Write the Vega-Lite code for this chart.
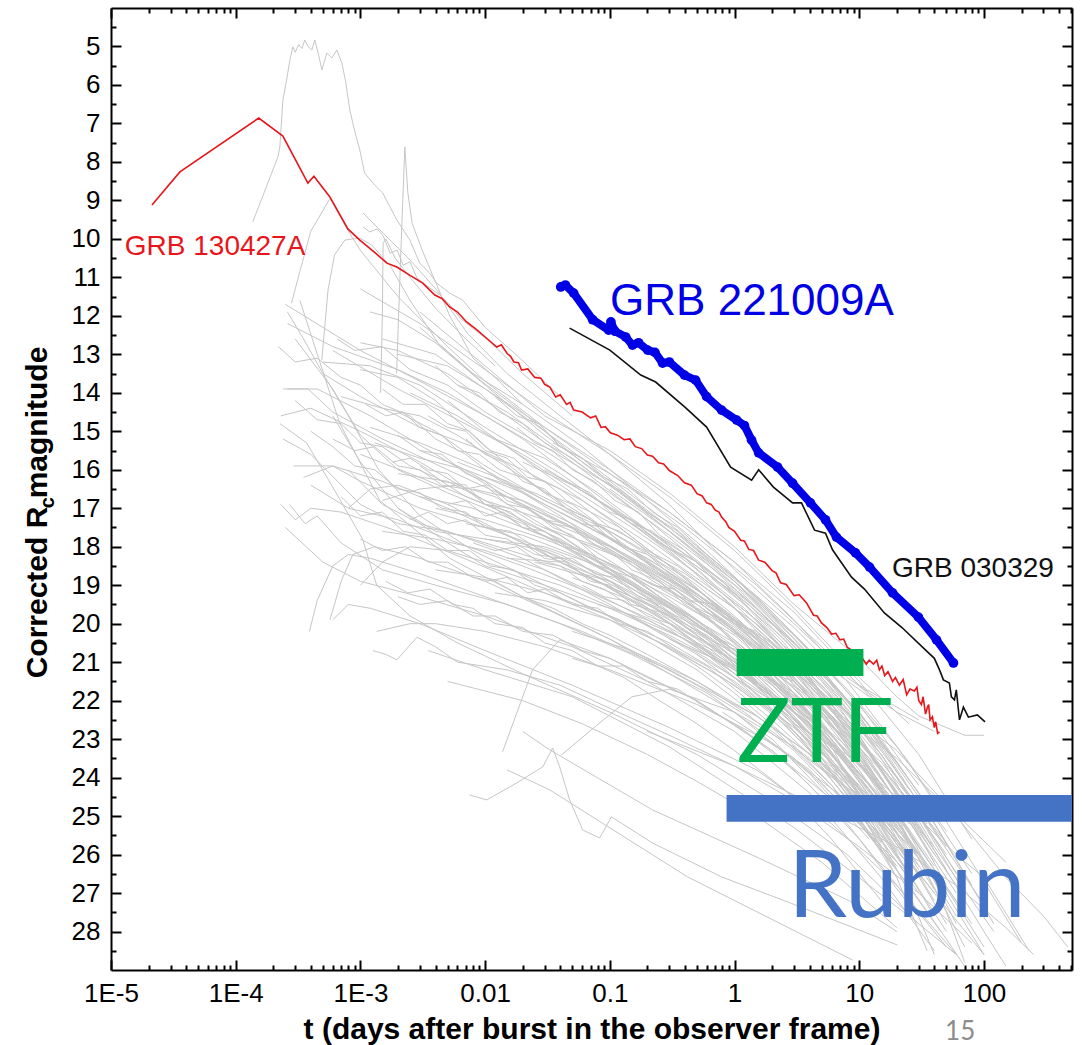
{
"$schema": "https://vega.github.io/schema/vega-lite/v6.json",
"autosize": "none",
"width": 961,
"height": 962,
"padding": {"left": 111, "top": 8, "right": 12, "bottom": 75},
"background": "white",
"config": {
  "view": {"stroke": null},
  "axis": {"grid": false, "domainColor": "black", "domainWidth": 2, "tickColor": "black", "tickWidth": 2, "labelFont": "Liberation Sans", "labelFontSize": 26, "labelColor": "black", "titleFont": "Liberation Sans", "titleColor": "black"}
},
"datasets": {
"grey": [
{"id":1,"t":1.37e-4,"m":9.56},{"id":1,"t":2.18e-4,"m":7.87},{"id":1,"t":2.26e-4,"m":7.61},{"id":1,"t":2.39e-4,"m":6.39},{"id":1,"t":2.55e-4,"m":5.9},{"id":1,"t":2.72e-4,"m":5.35},{"id":1,"t":2.87e-4,"m":5.01},{"id":1,"t":3.0e-4,"m":5.15},{"id":1,"t":3.2e-4,"m":4.95},{"id":1,"t":3.4e-4,"m":5.05},{"id":1,"t":3.58e-4,"m":4.83},{"id":1,"t":3.8e-4,"m":5.0},{"id":1,"t":4.08e-4,"m":5.09},{"id":1,"t":4.31e-4,"m":4.83},{"id":1,"t":4.6e-4,"m":5.2},{"id":1,"t":4.91e-4,"m":5.61},{"id":1,"t":5.38e-4,"m":5.17},{"id":1,"t":5.9e-4,"m":5.3},{"id":1,"t":6.47e-4,"m":5.09},{"id":1,"t":7.1e-4,"m":5.43},{"id":1,"t":7.6e-4,"m":5.9},{"id":1,"t":8.22e-4,"m":6.65},{"id":1,"t":9e-4,"m":7.2},{"id":1,"t":9.89e-4,"m":7.69},{"id":1,"t":1.08e-3,"m":8.29},{"id":1,"t":1.3e-3,"m":8.6},{"id":1,"t":1.51e-3,"m":8.81},{"id":1,"t":1.96e-3,"m":9.51},{"id":1,"t":2.49e-3,"m":10.03},{"id":1,"t":2.99e-3,"m":10.63},{"id":1,"t":3.6e-3,"m":10.89},{"id":1,"t":4.09e-3,"m":11.15},{"id":1,"t":5.2e-3,"m":11.41},{"id":1,"t":6.6e-3,"m":11.59},{"id":1,"t":0.01,"m":12.3},{"id":1,"t":0.019,"m":13.1},{"id":1,"t":0.04,"m":14.1},
{"id":2,"t":1.95e-3,"m":13.5},{"id":2,"t":2.1e-3,"m":10.5},{"id":2,"t":2.27e-3,"m":7.61},{"id":2,"t":2.4e-3,"m":8.8},{"id":2,"t":2.6e-3,"m":9.6},{"id":2,"t":3.16e-3,"m":10.33},{"id":2,"t":4.1e-3,"m":11.2},{"id":2,"t":5.2e-3,"m":12.0},{"id":2,"t":6.6e-3,"m":12.6},{"id":2,"t":8e-3,"m":13.1},{"id":2,"t":0.012,"m":13.6},{"id":2,"t":0.02,"m":14.3},
{"id":3,"t":4.9e-4,"m":13.15},{"id":3,"t":5.5e-4,"m":11.33},{"id":3,"t":6.2e-4,"m":10.42},{"id":3,"t":7.5e-4,"m":10.03},{"id":3,"t":9.9e-4,"m":9.98},{"id":3,"t":1.23e-3,"m":10.16},{"id":3,"t":1.72e-3,"m":10.68},{"id":3,"t":2.49e-3,"m":11.59},{"id":3,"t":4.3e-3,"m":12.76},{"id":3,"t":9.1e-3,"m":13.67},{"id":3,"t":0.019,"m":14.45},{"id":3,"t":0.05,"m":15.6},{"id":3,"t":0.15,"m":16.8},{"id":3,"t":0.5,"m":18.2},{"id":3,"t":1.5,"m":19.6},{"id":3,"t":4,"m":21.0},{"id":3,"t":10,"m":22.6},
{"id":4,"t":1.05e-3,"m":9.69},{"id":4,"t":1.19e-3,"m":9.82},{"id":4,"t":1.36e-3,"m":9.74},{"id":4,"t":1.52e-3,"m":9.92},{"id":4,"t":1.73e-3,"m":10.37},{"id":4,"t":1.97e-3,"m":10.29},{"id":4,"t":2.2e-3,"m":10.68},{"id":4,"t":2.5e-3,"m":10.6},{"id":4,"t":2.84e-3,"m":11.02},{"id":4,"t":3.61e-3,"m":11.28},{"id":4,"t":4.35e-3,"m":11.46},{"id":4,"t":5.24e-3,"m":11.72},{"id":4,"t":6.3e-3,"m":12.06},{"id":4,"t":8.3e-3,"m":12.37},{"id":4,"t":0.011,"m":12.68},{"id":4,"t":0.02,"m":13.5},{"id":4,"t":0.05,"m":14.6},
{"id":5,"t":1.45e-3,"m":14.0},{"id":5,"t":1.5e-3,"m":12.0},{"id":5,"t":1.52e-3,"m":10.1},{"id":5,"t":1.6e-3,"m":10.0},{"id":5,"t":1.9e-3,"m":10.5},{"id":5,"t":2.5e-3,"m":11.0},{"id":5,"t":4e-3,"m":11.8},{"id":5,"t":7e-3,"m":12.6},{"id":5,"t":0.012,"m":13.3},
{"id":6,"t":1.05e-3,"m":9.33},{"id":6,"t":2.5e-3,"m":10.55},{"id":6,"t":4.1e-3,"m":11.33},{"id":6,"t":7.2e-3,"m":12.45},{"id":6,"t":0.015,"m":13.5},{"id":6,"t":0.04,"m":14.6},{"id":6,"t":0.1,"m":15.6},{"id":6,"t":0.3,"m":16.7},{"id":6,"t":1,"m":18.1},{"id":6,"t":3,"m":19.6},{"id":6,"t":10,"m":21.4},{"id":6,"t":25,"m":22.6},
{"id":7,"t":2.8e-4,"m":11.67},{"id":7,"t":3.3e-4,"m":10.8},{"id":7,"t":4e-4,"m":9.8},{"id":7,"t":5.7e-4,"m":8.95},{"id":7,"t":8e-4,"m":9.8},{"id":7,"t":1e-3,"m":10.3},{"id":7,"t":2e-3,"m":11.5},{"id":7,"t":5e-3,"m":12.8},{"id":7,"t":0.01,"m":13.7},{"id":7,"t":0.03,"m":14.9},{"id":7,"t":0.1,"m":16.1},{"id":7,"t":0.4,"m":17.5},{"id":7,"t":1.5,"m":19.0},{"id":7,"t":5,"m":20.6},{"id":7,"t":15,"m":22.2},
{"id":8,"t":3e-3,"m":11.9},{"id":8,"t":0.01,"m":13.3},{"id":8,"t":0.03,"m":14.6},{"id":8,"t":0.1,"m":15.5},{"id":8,"t":0.3,"m":16.6},{"id":8,"t":1,"m":18.0},{"id":8,"t":3,"m":19.5},{"id":8,"t":10,"m":20.9},{"id":8,"t":20,"m":21.9},{"id":8,"t":30,"m":22.4},{"id":8,"t":50,"m":22.7},{"id":8,"t":70,"m":22.9},{"id":8,"t":100,"m":22.9},
{"id":9,"t":1e-3,"m":11.3},{"id":9,"t":3e-3,"m":12.2},{"id":9,"t":0.01,"m":13.4},{"id":9,"t":0.03,"m":14.5},{"id":9,"t":0.1,"m":15.6},{"id":9,"t":0.3,"m":16.9},{"id":9,"t":1,"m":18.6},{"id":9,"t":3,"m":20.0},{"id":9,"t":10,"m":21.6},{"id":9,"t":30,"m":22.5},
{"id":10,"t":2.5e-4,"m":11.7},{"id":10,"t":5e-4,"m":12.3},{"id":10,"t":1e-3,"m":12.9},{"id":10,"t":3e-3,"m":13.7},{"id":10,"t":0.01,"m":14.6},{"id":10,"t":0.03,"m":15.5},{"id":10,"t":0.1,"m":16.6},{"id":10,"t":0.3,"m":17.7},{"id":10,"t":1,"m":19.0},{"id":10,"t":3,"m":20.6},{"id":10,"t":10,"m":22.3},{"id":10,"t":20,"m":23.6},
{"id":11,"t":2.6e-4,"m":12.2},{"id":11,"t":6e-4,"m":12.8},{"id":11,"t":2e-3,"m":13.4},{"id":11,"t":5e-3,"m":14.0},{"id":11,"t":0.02,"m":15.2},{"id":11,"t":0.1,"m":16.9},{"id":11,"t":0.5,"m":18.6},{"id":11,"t":2,"m":20.4},{"id":11,"t":6,"m":22.1},{"id":11,"t":15,"m":23.8},
{"id":12,"t":1.5e-3,"m":12.6},{"id":12,"t":4e-3,"m":13.0},{"id":12,"t":0.01,"m":13.9},{"id":12,"t":0.03,"m":14.9},{"id":12,"t":0.1,"m":16.0},{"id":12,"t":0.3,"m":17.1},{"id":12,"t":1,"m":18.4},{"id":12,"t":3,"m":19.9},{"id":12,"t":8,"m":21.4},{"id":12,"t":20,"m":22.3},{"id":12,"t":40,"m":22.8},
{"id":13,"t":3e-3,"m":12.3},{"id":13,"t":8e-3,"m":13.5},{"id":13,"t":0.02,"m":14.3},{"id":13,"t":0.06,"m":15.4},{"id":13,"t":0.2,"m":16.8},{"id":13,"t":0.6,"m":18.1},{"id":13,"t":2,"m":19.7},{"id":13,"t":5,"m":21.0},{"id":13,"t":12,"m":21.9},
{"id":14,"t":5e-4,"m":13.2},{"id":14,"t":1.2e-3,"m":13.3},{"id":14,"t":3e-3,"m":13.8},{"id":14,"t":0.01,"m":14.9},{"id":14,"t":0.04,"m":16.1},{"id":14,"t":0.15,"m":17.4},{"id":14,"t":0.5,"m":18.7},{"id":14,"t":1.5,"m":19.9},{"id":14,"t":4,"m":21.4},{"id":14,"t":10,"m":23.0},{"id":14,"t":25,"m":24.8},
{"id":15,"t":6e-4,"m":12.9},{"id":15,"t":2e-3,"m":13.9},{"id":15,"t":6e-3,"m":14.7},{"id":15,"t":0.02,"m":15.6},{"id":15,"t":0.08,"m":16.8},{"id":15,"t":0.3,"m":18.1},{"id":15,"t":1,"m":19.6},{"id":15,"t":3,"m":21.2},{"id":15,"t":8,"m":23.0},
{"id":16,"t":1e-3,"m":12.7},{"id":16,"t":2e-3,"m":12.9},{"id":16,"t":5e-3,"m":13.5},{"id":16,"t":0.015,"m":14.6},{"id":16,"t":0.05,"m":15.8},{"id":16,"t":0.2,"m":17.3},{"id":16,"t":0.8,"m":18.9},{"id":16,"t":2.5,"m":20.5},{"id":16,"t":7,"m":22.5},{"id":16,"t":20,"m":24.6},{"id":16,"t":60,"m":26.8},
{"id":17,"t":2.3e-4,"m":14.6},{"id":17,"t":4e-4,"m":14.4},{"id":17,"t":1e-3,"m":15.0},{"id":17,"t":3e-3,"m":15.8},{"id":17,"t":0.01,"m":16.8},{"id":17,"t":0.03,"m":17.6},{"id":17,"t":0.1,"m":18.6},{"id":17,"t":0.4,"m":19.8},{"id":17,"t":1.5,"m":21.2},{"id":17,"t":5,"m":22.8},{"id":17,"t":15,"m":24.5},
{"id":18,"t":2.4e-4,"m":13.9},{"id":18,"t":4.5e-4,"m":13.9},{"id":18,"t":1.2e-3,"m":14.6},{"id":18,"t":4e-3,"m":15.6},{"id":18,"t":0.015,"m":16.7},{"id":18,"t":0.06,"m":17.9},{"id":18,"t":0.25,"m":19.2},{"id":18,"t":1,"m":20.6},{"id":18,"t":4,"m":22.3},{"id":18,"t":12,"m":24.2},
{"id":19,"t":2.4e-4,"m":15.2},{"id":19,"t":4e-4,"m":15.6},{"id":19,"t":1e-3,"m":16.9},{"id":19,"t":2e-3,"m":17.4},{"id":19,"t":5e-3,"m":17.6},{"id":19,"t":0.02,"m":18.3},{"id":19,"t":0.1,"m":19.5},{"id":19,"t":0.5,"m":20.8},{"id":19,"t":2,"m":22.3},{"id":19,"t":8,"m":24.3},{"id":19,"t":25,"m":26.5},
{"id":20,"t":3.5e-4,"m":16.2},{"id":20,"t":6e-4,"m":15.9},{"id":20,"t":1.5e-3,"m":16.3},{"id":20,"t":5e-3,"m":17.0},{"id":20,"t":0.02,"m":17.9},{"id":20,"t":0.08,"m":18.9},{"id":20,"t":0.3,"m":20.0},{"id":20,"t":1,"m":21.3},{"id":20,"t":3,"m":22.8},{"id":20,"t":10,"m":24.8},{"id":20,"t":30,"m":27.0},
{"id":21,"t":2.3e-4,"m":16.9},{"id":21,"t":3e-4,"m":17.3},{"id":21,"t":4e-4,"m":17.0},{"id":21,"t":7e-4,"m":17.1},{"id":21,"t":2e-3,"m":17.6},{"id":21,"t":8e-3,"m":18.4},{"id":21,"t":0.03,"m":19.2},{"id":21,"t":0.1,"m":19.9},{"id":21,"t":0.5,"m":21.2},{"id":21,"t":2,"m":22.7},{"id":21,"t":6,"m":24.2},{"id":21,"t":20,"m":26.3},
{"id":22,"t":2.5e-4,"m":17.5},{"id":22,"t":5e-4,"m":18.4},{"id":22,"t":1e-3,"m":18.9},{"id":22,"t":3e-3,"m":19.3},{"id":22,"t":0.01,"m":19.8},{"id":22,"t":0.05,"m":20.6},{"id":22,"t":0.2,"m":21.5},{"id":22,"t":1,"m":22.8},{"id":22,"t":4,"m":24.4},{"id":22,"t":15,"m":26.6},{"id":22,"t":40,"m":28.5},
{"id":23,"t":3.9e-4,"m":20.2},{"id":23,"t":4.5e-4,"m":19.4},{"id":23,"t":6e-4,"m":18.5},{"id":23,"t":8e-4,"m":18.2},{"id":23,"t":1.2e-3,"m":18.3},{"id":23,"t":3e-3,"m":18.7},{"id":23,"t":0.01,"m":19.3},{"id":23,"t":0.04,"m":20.0},{"id":23,"t":0.15,"m":20.8},{"id":23,"t":0.6,"m":21.8},{"id":23,"t":2,"m":23.0},{"id":23,"t":6,"m":24.6},
{"id":24,"t":5.7e-4,"m":19.9},{"id":24,"t":7e-4,"m":18.9},{"id":24,"t":8.7e-4,"m":18.2},{"id":24,"t":1.3e-3,"m":18.0},{"id":24,"t":3e-3,"m":18.3},{"id":24,"t":0.01,"m":18.9},{"id":24,"t":0.03,"m":19.6},{"id":24,"t":0.1,"m":20.4},{"id":24,"t":0.3,"m":21.3},{"id":24,"t":1,"m":22.3},{"id":24,"t":4,"m":23.9},{"id":24,"t":12,"m":25.6},
{"id":25,"t":5e-4,"m":13.5},{"id":25,"t":1e-3,"m":14.1},{"id":25,"t":3e-3,"m":14.9},{"id":25,"t":8e-3,"m":15.4},{"id":25,"t":0.02,"m":16.0},{"id":25,"t":0.06,"m":16.8},{"id":25,"t":0.2,"m":17.9},{"id":25,"t":0.8,"m":19.3},{"id":25,"t":3,"m":21.0},{"id":25,"t":10,"m":22.9},{"id":25,"t":30,"m":25.3},
{"id":26,"t":7e-4,"m":14.1},{"id":26,"t":1.5e-3,"m":14.4},{"id":26,"t":3e-3,"m":14.6},{"id":26,"t":6e-3,"m":15.1},{"id":26,"t":0.02,"m":16.2},{"id":26,"t":0.07,"m":17.3},{"id":26,"t":0.3,"m":18.8},{"id":26,"t":1,"m":20.2},{"id":26,"t":3,"m":21.9},{"id":26,"t":8,"m":23.6},{"id":26,"t":20,"m":25.3},
{"id":27,"t":1e-3,"m":13.4},{"id":27,"t":2e-3,"m":13.6},{"id":27,"t":4e-3,"m":14.2},{"id":27,"t":0.01,"m":15.4},{"id":27,"t":0.03,"m":16.6},{"id":27,"t":0.1,"m":17.8},{"id":27,"t":0.3,"m":18.8},{"id":27,"t":1,"m":20.0},{"id":27,"t":3,"m":21.4},{"id":27,"t":10,"m":23.5},{"id":27,"t":30,"m":25.8},{"id":27,"t":80,"m":27.8},
{"id":28,"t":1.3e-3,"m":15.3},{"id":28,"t":3e-3,"m":15.7},{"id":28,"t":7e-3,"m":16.0},{"id":28,"t":0.02,"m":16.6},{"id":28,"t":0.06,"m":17.4},{"id":28,"t":0.2,"m":18.3},{"id":28,"t":0.6,"m":19.3},{"id":28,"t":2,"m":20.6},{"id":28,"t":6,"m":22.1},{"id":28,"t":15,"m":23.8},{"id":28,"t":40,"m":26.0},
{"id":29,"t":2e-3,"m":14.5},{"id":29,"t":4e-3,"m":15.0},{"id":29,"t":0.01,"m":15.9},{"id":29,"t":0.03,"m":16.8},{"id":29,"t":0.1,"m":17.6},{"id":29,"t":0.4,"m":18.7},{"id":29,"t":1.5,"m":20.0},{"id":29,"t":5,"m":21.6},{"id":29,"t":15,"m":23.4},{"id":29,"t":50,"m":25.8},
{"id":30,"t":2e-3,"m":16.1},{"id":30,"t":5e-3,"m":16.3},{"id":30,"t":0.01,"m":16.8},{"id":30,"t":0.03,"m":17.3},{"id":30,"t":0.1,"m":18.0},{"id":30,"t":0.3,"m":18.9},{"id":30,"t":1,"m":20.0},{"id":30,"t":3,"m":21.0},{"id":30,"t":10,"m":22.6},{"id":30,"t":30,"m":24.8},{"id":30,"t":100,"m":27.3},
{"id":31,"t":3e-3,"m":15.5},{"id":31,"t":6e-3,"m":15.9},{"id":31,"t":0.015,"m":16.6},{"id":31,"t":0.05,"m":17.5},{"id":31,"t":0.15,"m":18.4},{"id":31,"t":0.5,"m":19.5},{"id":31,"t":1.5,"m":20.7},{"id":31,"t":5,"m":22.4},{"id":31,"t":20,"m":24.9},
{"id":32,"t":4e-3,"m":17.0},{"id":32,"t":0.01,"m":17.3},{"id":32,"t":0.03,"m":17.8},{"id":32,"t":0.1,"m":18.5},{"id":32,"t":0.3,"m":19.3},{"id":32,"t":1,"m":20.3},{"id":32,"t":3,"m":21.7},{"id":32,"t":10,"m":23.4},{"id":32,"t":30,"m":25.5},{"id":32,"t":60,"m":27.0},
{"id":33,"t":5e-3,"m":14.2},{"id":33,"t":0.01,"m":15.0},{"id":33,"t":0.03,"m":16.1},{"id":33,"t":0.1,"m":17.3},{"id":33,"t":0.3,"m":18.5},{"id":33,"t":1,"m":19.9},{"id":33,"t":3,"m":21.6},{"id":33,"t":8,"m":23.4},
{"id":34,"t":6e-3,"m":15.8},{"id":34,"t":0.015,"m":16.3},{"id":34,"t":0.04,"m":17.0},{"id":34,"t":0.12,"m":17.9},{"id":34,"t":0.4,"m":19.0},{"id":34,"t":1.2,"m":20.2},{"id":34,"t":4,"m":21.8},{"id":34,"t":12,"m":23.5},{"id":34,"t":30,"m":25.5},
{"id":35,"t":8e-3,"m":16.5},{"id":35,"t":0.02,"m":16.8},{"id":35,"t":0.05,"m":17.4},{"id":35,"t":0.15,"m":18.3},{"id":35,"t":0.5,"m":19.3},{"id":35,"t":2,"m":20.8},{"id":35,"t":6,"m":22.0},{"id":35,"t":20,"m":23.3},{"id":35,"t":50,"m":24.7},{"id":35,"t":150,"m":26.2},
{"id":36,"t":0.01,"m":17.8},{"id":36,"t":0.03,"m":18.1},{"id":36,"t":0.1,"m":18.8},{"id":36,"t":0.3,"m":19.6},{"id":36,"t":1,"m":20.7},{"id":36,"t":3,"m":22.0},{"id":36,"t":10,"m":23.6},{"id":36,"t":40,"m":25.8},{"id":36,"t":120,"m":28.0},
{"id":37,"t":0.012,"m":15.2},{"id":37,"t":0.03,"m":15.7},{"id":37,"t":0.08,"m":16.6},{"id":37,"t":0.25,"m":17.8},{"id":37,"t":0.8,"m":19.0},{"id":37,"t":2.5,"m":20.4},{"id":37,"t":7,"m":21.9},{"id":37,"t":20,"m":23.6},{"id":37,"t":50,"m":25.4},
{"id":38,"t":0.015,"m":18.3},{"id":38,"t":0.04,"m":18.4},{"id":38,"t":0.1,"m":18.9},{"id":38,"t":0.3,"m":19.8},{"id":38,"t":1,"m":21.0},{"id":38,"t":3,"m":22.4},{"id":38,"t":10,"m":24.4},{"id":38,"t":25,"m":26.3},
{"id":39,"t":0.02,"m":16.9},{"id":39,"t":0.06,"m":17.6},{"id":39,"t":0.2,"m":18.5},{"id":39,"t":0.6,"m":19.4},{"id":39,"t":2,"m":20.6},{"id":39,"t":6,"m":22.0},{"id":39,"t":20,"m":24.0},{"id":39,"t":60,"m":26.5},
{"id":40,"t":0.03,"m":17.5},{"id":40,"t":0.08,"m":18.0},{"id":40,"t":0.2,"m":18.7},{"id":40,"t":0.6,"m":19.8},{"id":40,"t":2,"m":21.3},{"id":40,"t":5,"m":22.8},{"id":40,"t":15,"m":24.9},{"id":40,"t":40,"m":27.2},
{"id":41,"t":0.04,"m":16.2},{"id":41,"t":0.1,"m":17.0},{"id":41,"t":0.3,"m":17.9},{"id":41,"t":1,"m":19.1},{"id":41,"t":3,"m":20.5},{"id":41,"t":10,"m":22.3},{"id":41,"t":30,"m":24.4},{"id":41,"t":80,"m":26.5},
{"id":42,"t":0.05,"m":18.8},{"id":42,"t":0.15,"m":19.4},{"id":42,"t":0.5,"m":20.4},{"id":42,"t":1.5,"m":21.6},{"id":42,"t":5,"m":23.3},{"id":42,"t":15,"m":25.3},{"id":42,"t":40,"m":27.6},
{"id":43,"t":0.06,"m":17.9},{"id":43,"t":0.15,"m":18.4},{"id":43,"t":0.4,"m":19.2},{"id":43,"t":1,"m":20.1},{"id":43,"t":3,"m":21.3},{"id":43,"t":10,"m":23.0},{"id":43,"t":30,"m":25.0},{"id":43,"t":70,"m":27.0},
{"id":44,"t":0.08,"m":19.5},{"id":44,"t":0.2,"m":19.9},{"id":44,"t":0.6,"m":20.7},{"id":44,"t":2,"m":21.9},{"id":44,"t":6,"m":23.4},{"id":44,"t":20,"m":25.6},{"id":44,"t":50,"m":27.8},
{"id":45,"t":0.1,"m":16.5},{"id":45,"t":0.3,"m":17.6},{"id":45,"t":1,"m":18.9},{"id":45,"t":3,"m":20.3},{"id":45,"t":8,"m":21.7},{"id":45,"t":20,"m":23.2},{"id":45,"t":50,"m":25.0},
{"id":46,"t":0.15,"m":17.4},{"id":46,"t":0.4,"m":18.3},{"id":46,"t":1,"m":19.2},{"id":46,"t":3,"m":20.5},{"id":46,"t":10,"m":22.3},{"id":46,"t":30,"m":24.5},{"id":46,"t":80,"m":26.8},
{"id":47,"t":0.2,"m":18.9},{"id":47,"t":0.5,"m":19.5},{"id":47,"t":1.5,"m":20.6},{"id":47,"t":4,"m":21.9},{"id":47,"t":12,"m":23.8},{"id":47,"t":40,"m":26.4},{"id":47,"t":100,"m":28.4},
{"id":48,"t":0.3,"m":20.4},{"id":48,"t":0.8,"m":21.0},{"id":48,"t":2,"m":21.8},{"id":48,"t":6,"m":23.1},{"id":48,"t":20,"m":25.0},{"id":48,"t":60,"m":27.2},
{"id":49,"t":0.5,"m":18.0},{"id":49,"t":1,"m":18.8},{"id":49,"t":3,"m":20.1},{"id":49,"t":8,"m":21.5},{"id":49,"t":25,"m":23.6},{"id":49,"t":80,"m":26.2},{"id":49,"t":200,"m":28.3},
{"id":50,"t":0.7,"m":19.6},{"id":50,"t":2,"m":20.5},{"id":50,"t":5,"m":21.6},{"id":50,"t":15,"m":23.3},{"id":50,"t":40,"m":25.2},{"id":50,"t":120,"m":27.8},
{"id":51,"t":2.26e-4,"m":14.8},{"id":51,"t":3.7e-4,"m":15.3},{"id":51,"t":6e-4,"m":16.45},{"id":51,"t":1.04e-3,"m":17.8},{"id":51,"t":1.35e-3,"m":19.0},{"id":51,"t":2.5e-3,"m":19.8},{"id":51,"t":6e-3,"m":20.5},{"id":51,"t":0.02,"m":21.3},{"id":51,"t":0.1,"m":22.3},{"id":51,"t":0.5,"m":23.4},{"id":51,"t":2,"m":24.6},{"id":51,"t":8,"m":26.0},{"id":51,"t":30,"m":27.8},
{"id":52,"t":6e-4,"m":19.9},{"id":52,"t":8e-4,"m":19.5},{"id":52,"t":1.2e-3,"m":19.6},{"id":52,"t":3e-3,"m":20.0},{"id":52,"t":0.01,"m":20.7},{"id":52,"t":0.05,"m":21.6},{"id":52,"t":0.3,"m":22.7},{"id":52,"t":1.5,"m":23.8},{"id":52,"t":6,"m":25.2},{"id":52,"t":20,"m":26.8},{"id":52,"t":60,"m":28.6},
{"id":53,"t":1.35e-3,"m":20.2},{"id":53,"t":2.5e-3,"m":20.0},{"id":53,"t":4e-3,"m":20.0},{"id":53,"t":0.01,"m":20.2},{"id":53,"t":0.03,"m":20.6},{"id":53,"t":0.1,"m":21.2},{"id":53,"t":0.5,"m":22.1},{"id":53,"t":2,"m":23.1},{"id":53,"t":8,"m":24.6},{"id":53,"t":30,"m":26.5},{"id":53,"t":100,"m":28.6},
{"id":54,"t":1.26e-3,"m":20.7},{"id":54,"t":1.6e-3,"m":20.8},{"id":54,"t":1.96e-3,"m":20.94},{"id":54,"t":2.84e-3,"m":20.35},{"id":54,"t":4e-3,"m":20.6},{"id":54,"t":6e-3,"m":21.0},{"id":54,"t":0.015,"m":21.2},{"id":54,"t":0.04,"m":21.6},{"id":54,"t":0.1,"m":22.2},{"id":54,"t":0.3,"m":22.9},{"id":54,"t":1,"m":23.7},{"id":54,"t":3,"m":24.6},{"id":54,"t":10,"m":25.8},{"id":54,"t":30,"m":27.0},{"id":54,"t":80,"m":28.3},
{"id":55,"t":3.5e-3,"m":20.7},{"id":55,"t":0.01,"m":21.2},{"id":55,"t":0.02,"m":21.5},{"id":55,"t":0.05,"m":21.9},{"id":55,"t":0.1,"m":22.4},{"id":55,"t":0.3,"m":23.2},{"id":55,"t":1,"m":24.3},{"id":55,"t":3,"m":25.3},{"id":55,"t":10,"m":26.6},{"id":55,"t":30,"m":27.8},{"id":55,"t":60,"m":28.6},
{"id":56,"t":5e-3,"m":21.5},{"id":56,"t":0.02,"m":22.0},{"id":56,"t":0.06,"m":22.6},{"id":56,"t":0.2,"m":23.4},{"id":56,"t":0.5,"m":24.1},{"id":56,"t":1.5,"m":25.0},{"id":56,"t":5,"m":26.2},{"id":56,"t":20,"m":27.9},
{"id":57,"t":7.5e-3,"m":24.45},{"id":57,"t":0.0103,"m":24.58},{"id":57,"t":0.0179,"m":24.14},{"id":57,"t":0.029,"m":23.72},{"id":57,"t":0.0348,"m":23.23},{"id":57,"t":0.0396,"m":23.72},{"id":57,"t":0.0476,"m":24.58},{"id":57,"t":0.0605,"m":25.36},{"id":57,"t":0.0828,"m":25.57},{"id":57,"t":0.103,"m":25.02},{"id":57,"t":0.22,"m":25.7},{"id":57,"t":0.787,"m":26.58},{"id":57,"t":2.81,"m":27.26},{"id":57,"t":20.2,"m":28.35},
{"id":58,"t":0.0138,"m":23.33},{"id":58,"t":0.024,"m":21.2},{"id":58,"t":0.0396,"m":20.42},{"id":58,"t":0.1,"m":20.9},{"id":58,"t":0.5,"m":22.0},{"id":58,"t":2,"m":23.3},{"id":58,"t":8,"m":24.9},{"id":58,"t":25,"m":26.5},
{"id":59,"t":0.041,"m":23.41},{"id":59,"t":0.0828,"m":22.58},{"id":59,"t":0.15,"m":21.9},{"id":59,"t":0.3,"m":21.7},{"id":59,"t":1,"m":22.3},{"id":59,"t":3,"m":23.2},{"id":59,"t":10,"m":24.5},{"id":59,"t":30,"m":26.0},
{"id":60,"t":0.015,"m":23.8},{"id":60,"t":0.033,"m":24.32},{"id":60,"t":0.42,"m":26.58},{"id":60,"t":8.83,"m":28.74},
{"id":61,"t":0.02,"m":22.8},{"id":61,"t":0.033,"m":23.28},{"id":61,"t":0.22,"m":24.84},{"id":61,"t":1.59,"m":26.1},{"id":61,"t":8.3,"m":27.2},{"id":61,"t":20,"m":28.0},
{"id":62,"t":2.6e-4,"m":11.9},{"id":62,"t":3.5e-4,"m":12.6},{"id":62,"t":5e-4,"m":13.5},{"id":62,"t":8e-4,"m":14.6},{"id":62,"t":1.4e-3,"m":16.0},{"id":62,"t":3e-3,"m":17.2},{"id":62,"t":8e-3,"m":18.1},{"id":62,"t":0.03,"m":19.0},{"id":62,"t":0.15,"m":20.1},{"id":62,"t":0.8,"m":21.4},{"id":62,"t":3,"m":22.7},{"id":62,"t":10,"m":24.2},{"id":62,"t":30,"m":26.0},
{"id":63,"t":3.27e-4,"m":11.6},{"id":63,"t":6.8e-4,"m":14.78},{"id":63,"t":1.43e-3,"m":16.8},{"id":63,"t":5.2e-3,"m":18.3},{"id":63,"t":0.02,"m":19.3},{"id":63,"t":0.1,"m":20.4},{"id":63,"t":0.5,"m":21.6},{"id":63,"t":2,"m":22.8},{"id":63,"t":8,"m":24.3},{"id":63,"t":25,"m":26.0},
{"id":64,"t":0.3,"m":19.5},{"id":64,"t":1,"m":20.5},{"id":64,"t":3,"m":21.8},{"id":64,"t":6,"m":23.2},{"id":64,"t":12,"m":25.0},{"id":64,"t":25,"m":27.0},{"id":64,"t":40,"m":28.6},
{"id":65,"t":0.5,"m":20.8},{"id":65,"t":2,"m":22.0},{"id":65,"t":5,"m":23.3},{"id":65,"t":10,"m":24.8},{"id":65,"t":20,"m":26.6},{"id":65,"t":35,"m":28.5},
{"id":66,"t":1,"m":20.9},{"id":66,"t":3,"m":21.8},{"id":66,"t":8,"m":23.0},{"id":66,"t":20,"m":25.0},{"id":66,"t":50,"m":27.5},{"id":66,"t":70,"m":28.8},
{"id":67,"t":2,"m":21.5},{"id":67,"t":6,"m":22.5},{"id":67,"t":15,"m":23.8},{"id":67,"t":40,"m":25.9},{"id":67,"t":100,"m":28.0},{"id":67,"t":150,"m":28.9},
{"id":68,"t":3,"m":22.6},{"id":68,"t":8,"m":23.4},{"id":68,"t":20,"m":24.5},{"id":68,"t":60,"m":26.0},{"id":68,"t":100,"m":26.6},{"id":68,"t":230,"m":28.5},
{"id":69,"t":5,"m":22.0},{"id":69,"t":20,"m":23.5},{"id":69,"t":60,"m":25.0},{"id":69,"t":150,"m":26.6},{"id":69,"t":300,"m":27.6},{"id":69,"t":470,"m":28.4},
{"id":70,"t":1.5,"m":22.8},{"id":70,"t":4,"m":23.8},{"id":70,"t":10,"m":25.2},{"id":70,"t":25,"m":26.8},{"id":70,"t":50,"m":28.2},{"id":70,"t":70,"m":28.9},
{"id":71,"t":0.8,"m":22.3},{"id":71,"t":3,"m":23.5},{"id":71,"t":8,"m":24.8},{"id":71,"t":20,"m":26.4},{"id":71,"t":45,"m":28.0},
{"id":72,"t":0.2,"m":22.8},{"id":72,"t":1,"m":23.7},{"id":72,"t":5,"m":24.8},{"id":72,"t":20,"m":25.8},{"id":72,"t":60,"m":26.8},{"id":72,"t":150,"m":27.9},{"id":72,"t":250,"m":28.6},
{"id":73,"t":1.2e-3,"m":11.9},{"id":73,"t":2e-3,"m":12.1},{"id":73,"t":4e-3,"m":12.7},{"id":73,"t":0.01,"m":13.8},{"id":73,"t":0.03,"m":15.1},{"id":73,"t":0.1,"m":16.3},{"id":73,"t":0.3,"m":17.5},{"id":73,"t":1,"m":18.9},{"id":73,"t":3,"m":20.4},{"id":73,"t":7,"m":21.8},{"id":73,"t":15,"m":23.0},
{"id":74,"t":2e-3,"m":13.0},{"id":74,"t":5e-3,"m":13.3},{"id":74,"t":0.01,"m":13.9},{"id":74,"t":0.03,"m":15.0},{"id":74,"t":0.08,"m":16.0},{"id":74,"t":0.3,"m":17.4},{"id":74,"t":1,"m":18.8},{"id":74,"t":3,"m":20.3},{"id":74,"t":10,"m":22.1},{"id":74,"t":30,"m":24.2},
{"id":75,"t":6.5e-4,"m":12.6},{"id":75,"t":9e-4,"m":12.9},{"id":75,"t":1.5e-3,"m":12.8},{"id":75,"t":2.5e-3,"m":13.4},{"id":75,"t":5e-3,"m":13.8},{"id":75,"t":0.01,"m":14.5},{"id":75,"t":0.03,"m":15.4},{"id":75,"t":0.1,"m":16.4},{"id":75,"t":0.4,"m":17.8},{"id":75,"t":1.5,"m":19.3},{"id":75,"t":5,"m":21.0},{"id":75,"t":15,"m":22.8},
{"id":76,"t":2.6e-4,"m":13.9},{"id":76,"t":3.8e-4,"m":13.9},{"id":76,"t":6e-4,"m":14.5},{"id":76,"t":1.5e-3,"m":15.2},{"id":76,"t":5e-3,"m":16.0},{"id":76,"t":0.02,"m":16.9},{"id":76,"t":0.1,"m":18.0},{"id":76,"t":0.5,"m":19.4},{"id":76,"t":2,"m":20.9},{"id":76,"t":6,"m":22.5},{"id":76,"t":15,"m":24.3},
{"id":77,"t":2.9e-4,"m":15.9},{"id":77,"t":6e-4,"m":15.9},{"id":77,"t":1e-3,"m":16.3},{"id":77,"t":3e-3,"m":17.0},{"id":77,"t":0.01,"m":17.5},{"id":77,"t":0.04,"m":18.2},{"id":77,"t":0.2,"m":19.4},{"id":77,"t":1,"m":20.6},{"id":77,"t":4,"m":21.9},{"id":77,"t":15,"m":23.6},{"id":77,"t":50,"m":25.7},
{"id":78,"t":2.7e-4,"m":16.9},{"id":78,"t":3.6e-4,"m":17.4},{"id":78,"t":4.5e-4,"m":17.2},{"id":78,"t":7e-4,"m":17.9},{"id":78,"t":1.5e-3,"m":18.6},{"id":78,"t":4e-3,"m":19.0},{"id":78,"t":0.015,"m":19.5},{"id":78,"t":0.06,"m":20.2},{"id":78,"t":0.3,"m":21.2},{"id":78,"t":1.5,"m":22.4},{"id":78,"t":6,"m":23.8},{"id":78,"t":20,"m":25.4},
{"id":79,"t":6e-4,"m":14.6},{"id":79,"t":1e-3,"m":15.8},{"id":79,"t":2e-3,"m":17.0},{"id":79,"t":4e-3,"m":17.6},{"id":79,"t":0.01,"m":17.8},{"id":79,"t":0.03,"m":18.0},{"id":79,"t":0.1,"m":18.6},{"id":79,"t":0.5,"m":19.9},{"id":79,"t":2,"m":21.5},{"id":79,"t":6,"m":23.2},
{"id":80,"t":1.5e-3,"m":16.8},{"id":80,"t":3e-3,"m":16.5},{"id":80,"t":6e-3,"m":16.4},{"id":80,"t":0.012,"m":16.7},{"id":80,"t":0.04,"m":17.7},{"id":80,"t":0.15,"m":19.0},{"id":80,"t":0.6,"m":20.5},{"id":80,"t":2,"m":22.0},{"id":80,"t":6,"m":23.8},{"id":80,"t":15,"m":25.6},
{"id":81,"t":3e-4,"m":12.6},{"id":81,"t":6e-4,"m":13.9},{"id":81,"t":1e-3,"m":15.1},{"id":81,"t":2e-3,"m":16.0},{"id":81,"t":5e-3,"m":16.6},{"id":81,"t":0.02,"m":17.4},{"id":81,"t":0.1,"m":18.7},{"id":81,"t":0.5,"m":20.2},{"id":81,"t":2,"m":21.8},{"id":81,"t":8,"m":23.6},
{"id":82,"t":8e-4,"m":17.0},{"id":82,"t":1.2e-3,"m":16.5},{"id":82,"t":2e-3,"m":16.4},{"id":82,"t":5e-3,"m":16.9},{"id":82,"t":0.02,"m":17.9},{"id":82,"t":0.08,"m":18.9},{"id":82,"t":0.3,"m":19.9},{"id":82,"t":1,"m":21.0},{"id":82,"t":3,"m":22.4},{"id":82,"t":10,"m":24.2},
{"id":83,"t":4e-4,"m":16.4},{"id":83,"t":8e-4,"m":17.0},{"id":83,"t":2e-3,"m":17.3},{"id":83,"t":6e-3,"m":17.9},{"id":83,"t":0.02,"m":18.5},{"id":83,"t":0.07,"m":19.2},{"id":83,"t":0.3,"m":20.1},{"id":83,"t":1,"m":21.1},{"id":83,"t":4,"m":22.6},{"id":83,"t":12,"m":24.3},{"id":83,"t":30,"m":26.0},
{"id":84,"t":1e-3,"m":19.0},{"id":84,"t":1.5e-3,"m":18.4},{"id":84,"t":2.5e-3,"m":18.0},{"id":84,"t":5e-3,"m":18.1},{"id":84,"t":0.01,"m":18.4},{"id":84,"t":0.04,"m":19.0},{"id":84,"t":0.15,"m":19.8},{"id":84,"t":0.6,"m":20.9},{"id":84,"t":2,"m":22.1},{"id":84,"t":6,"m":23.6},{"id":84,"t":20,"m":25.6},
{"id":85,"t":1e-3,"m":15.6},{"id":85,"t":3e-3,"m":16.2},{"id":85,"t":0.01,"m":16.9},{"id":85,"t":0.04,"m":17.8},{"id":85,"t":0.15,"m":18.9},{"id":85,"t":0.5,"m":20.0},{"id":85,"t":2,"m":21.4},{"id":85,"t":6,"m":22.9},{"id":85,"t":20,"m":24.8},
{"id":86,"t":1.5e-3,"m":17.6},{"id":86,"t":4e-3,"m":17.8},{"id":86,"t":0.01,"m":18.1},{"id":86,"t":0.03,"m":18.6},{"id":86,"t":0.1,"m":19.4},{"id":86,"t":0.4,"m":20.4},{"id":86,"t":1.5,"m":21.7},{"id":86,"t":5,"m":23.1},{"id":86,"t":15,"m":24.9},
{"id":87,"t":2.5e-3,"m":14.0},{"id":87,"t":6e-3,"m":14.6},{"id":87,"t":0.015,"m":15.4},{"id":87,"t":0.05,"m":16.5},{"id":87,"t":0.15,"m":17.5},{"id":87,"t":0.5,"m":18.7},{"id":87,"t":1.5,"m":19.9},{"id":87,"t":5,"m":21.5},{"id":87,"t":15,"m":23.4},{"id":87,"t":35,"m":25.2},
{"id":88,"t":3e-3,"m":16.7},{"id":88,"t":8e-3,"m":17.0},{"id":88,"t":0.02,"m":17.5},{"id":88,"t":0.06,"m":18.1},{"id":88,"t":0.2,"m":18.9},{"id":88,"t":0.7,"m":19.9},{"id":88,"t":2,"m":20.9},{"id":88,"t":7,"m":22.6},{"id":88,"t":20,"m":24.6},
{"id":89,"t":4e-3,"m":18.6},{"id":89,"t":0.01,"m":18.8},{"id":89,"t":0.03,"m":19.2},{"id":89,"t":0.1,"m":19.8},{"id":89,"t":0.3,"m":20.5},{"id":89,"t":1,"m":21.5},{"id":89,"t":3,"m":22.7},{"id":89,"t":10,"m":24.3},{"id":89,"t":30,"m":26.1},
{"id":90,"t":6e-3,"m":13.8},{"id":90,"t":0.015,"m":14.5},{"id":90,"t":0.04,"m":15.5},{"id":90,"t":0.12,"m":16.6},{"id":90,"t":0.4,"m":17.9},{"id":90,"t":1.2,"m":19.2},{"id":90,"t":4,"m":20.9},{"id":90,"t":10,"m":22.4},{"id":90,"t":25,"m":24.3},
{"id":91,"t":7e-3,"m":17.4},{"id":91,"t":0.02,"m":17.7},{"id":91,"t":0.05,"m":18.2},{"id":91,"t":0.15,"m":19.0},{"id":91,"t":0.5,"m":20.0},{"id":91,"t":1.5,"m":21.1},{"id":91,"t":5,"m":22.6},{"id":91,"t":15,"m":24.3},{"id":91,"t":40,"m":26.3},
{"id":92,"t":0.01,"m":16.2},{"id":92,"t":0.025,"m":16.6},{"id":92,"t":0.07,"m":17.3},{"id":92,"t":0.2,"m":18.2},{"id":92,"t":0.6,"m":19.3},{"id":92,"t":2,"m":20.6},{"id":92,"t":6,"m":22.2},{"id":92,"t":20,"m":24.2},{"id":92,"t":50,"m":26.0},
{"id":93,"t":0.012,"m":19.2},{"id":93,"t":0.03,"m":19.4},{"id":93,"t":0.1,"m":19.9},{"id":93,"t":0.3,"m":20.6},{"id":93,"t":1,"m":21.6},{"id":93,"t":3,"m":22.8},{"id":93,"t":10,"m":24.4},{"id":93,"t":30,"m":26.3},
{"id":94,"t":0.02,"m":15.8},{"id":94,"t":0.05,"m":16.4},{"id":94,"t":0.15,"m":17.3},{"id":94,"t":0.5,"m":18.4},{"id":94,"t":1.5,"m":19.6},{"id":94,"t":5,"m":21.2},{"id":94,"t":15,"m":23.0},{"id":94,"t":40,"m":25.0},
{"id":95,"t":0.025,"m":18.4},{"id":95,"t":0.07,"m":18.8},{"id":95,"t":0.2,"m":19.5},{"id":95,"t":0.6,"m":20.4},{"id":95,"t":2,"m":21.6},{"id":95,"t":6,"m":23.0},{"id":95,"t":20,"m":25.1},{"id":95,"t":50,"m":27.1},
{"id":96,"t":0.035,"m":15.3},{"id":96,"t":0.1,"m":16.1},{"id":96,"t":0.3,"m":17.1},{"id":96,"t":1,"m":18.4},{"id":96,"t":3,"m":19.7},{"id":96,"t":10,"m":21.5},{"id":96,"t":30,"m":23.4},{"id":96,"t":80,"m":25.6},
{"id":97,"t":8e-4,"m":16.0},{"id":97,"t":1.5e-3,"m":16.9},{"id":97,"t":3e-3,"m":17.4},{"id":97,"t":0.01,"m":17.9},{"id":97,"t":0.04,"m":18.5},{"id":97,"t":0.15,"m":19.3},{"id":97,"t":0.6,"m":20.3},{"id":97,"t":2,"m":21.5},{"id":97,"t":8,"m":23.2},{"id":97,"t":25,"m":25.2},
{"id":98,"t":1.2e-3,"m":14.9},{"id":98,"t":3e-3,"m":15.3},{"id":98,"t":0.01,"m":16.0},{"id":98,"t":0.03,"m":16.9},{"id":98,"t":0.1,"m":17.8},{"id":98,"t":0.35,"m":18.9},{"id":98,"t":1.2,"m":20.1},{"id":98,"t":4,"m":21.6},{"id":98,"t":12,"m":23.4},{"id":98,"t":35,"m":25.6},
{"id":99,"t":2e-3,"m":17.0},{"id":99,"t":5e-3,"m":17.9},{"id":99,"t":0.01,"m":18.5},{"id":99,"t":0.03,"m":19.0},{"id":99,"t":0.1,"m":19.6},{"id":99,"t":0.3,"m":20.3},{"id":99,"t":1,"m":21.2},{"id":99,"t":4,"m":22.6},{"id":99,"t":12,"m":24.3},{"id":99,"t":35,"m":26.4},
{"id":100,"t":0.05,"m":20.2},{"id":100,"t":0.15,"m":20.7},{"id":100,"t":0.5,"m":21.5},{"id":100,"t":1.5,"m":22.4},{"id":100,"t":5,"m":23.6},{"id":100,"t":15,"m":25.2},{"id":100,"t":40,"m":27.0},
{"id":101,"t":0.08,"m":17.6},{"id":101,"t":0.25,"m":18.5},{"id":101,"t":0.8,"m":19.7},{"id":101,"t":2.5,"m":21.0},{"id":101,"t":8,"m":22.6},{"id":101,"t":25,"m":24.6},{"id":101,"t":70,"m":26.8},
{"id":102,"t":0.15,"m":19.8},{"id":102,"t":0.4,"m":20.4},{"id":102,"t":1.2,"m":21.3},{"id":102,"t":4,"m":22.5},{"id":102,"t":12,"m":24.2},{"id":102,"t":40,"m":26.5},{"id":102,"t":100,"m":28.6},
{"id":103,"t":1.1e-3,"m":14.3},{"id":103,"t":1.6e-3,"m":14.6},{"id":103,"t":2.2e-3,"m":14.5},{"id":103,"t":3e-3,"m":14.9},{"id":103,"t":4.5e-3,"m":15.1},{"id":103,"t":6e-3,"m":15.5},{"id":103,"t":9e-3,"m":15.6},{"id":103,"t":0.013,"m":16.0},{"id":103,"t":0.02,"m":16.2},{"id":103,"t":0.03,"m":16.6},{"id":103,"t":0.05,"m":16.9},{"id":103,"t":0.08,"m":17.4},{"id":103,"t":0.12,"m":17.6},{"id":103,"t":0.2,"m":18.1},{"id":103,"t":0.35,"m":18.5},{"id":103,"t":0.6,"m":19.1},{"id":103,"t":1,"m":19.6},{"id":103,"t":2,"m":20.5},{"id":103,"t":4,"m":21.5},{"id":103,"t":8,"m":22.8},{"id":103,"t":15,"m":24.2},
{"id":104,"t":1.8e-3,"m":15.8},{"id":104,"t":2.5e-3,"m":15.7},{"id":104,"t":3.5e-3,"m":16.0},{"id":104,"t":5e-3,"m":16.1},{"id":104,"t":7e-3,"m":16.5},{"id":104,"t":0.01,"m":16.4},{"id":104,"t":0.015,"m":16.9},{"id":104,"t":0.022,"m":17.0},{"id":104,"t":0.035,"m":17.4},{"id":104,"t":0.05,"m":17.5},{"id":104,"t":0.08,"m":18.0},{"id":104,"t":0.13,"m":18.3},{"id":104,"t":0.2,"m":18.8},{"id":104,"t":0.4,"m":19.4},{"id":104,"t":0.8,"m":20.2},{"id":104,"t":1.5,"m":21.0},{"id":104,"t":3,"m":22.0},{"id":104,"t":7,"m":23.4},{"id":104,"t":15,"m":24.9},
{"id":105,"t":2.5e-3,"m":17.3},{"id":105,"t":3.5e-3,"m":17.1},{"id":105,"t":5e-3,"m":17.4},{"id":105,"t":7e-3,"m":17.3},{"id":105,"t":0.01,"m":17.7},{"id":105,"t":0.015,"m":17.8},{"id":105,"t":0.025,"m":18.2},{"id":105,"t":0.04,"m":18.3},{"id":105,"t":0.06,"m":18.7},{"id":105,"t":0.1,"m":18.9},{"id":105,"t":0.15,"m":19.3},{"id":105,"t":0.25,"m":19.6},{"id":105,"t":0.5,"m":20.3},{"id":105,"t":1,"m":21.0},{"id":105,"t":2,"m":21.9},{"id":105,"t":5,"m":23.2},{"id":105,"t":12,"m":24.8},
{"id":106,"t":3.5e-3,"m":14.6},{"id":106,"t":5e-3,"m":14.9},{"id":106,"t":7e-3,"m":15.0},{"id":106,"t":0.01,"m":15.5},{"id":106,"t":0.015,"m":15.7},{"id":106,"t":0.022,"m":16.2},{"id":106,"t":0.03,"m":16.3},{"id":106,"t":0.045,"m":16.8},{"id":106,"t":0.07,"m":17.1},{"id":106,"t":0.1,"m":17.5},{"id":106,"t":0.15,"m":17.8},{"id":106,"t":0.25,"m":18.4},{"id":106,"t":0.4,"m":18.8},{"id":106,"t":0.7,"m":19.5},{"id":106,"t":1.2,"m":20.1},{"id":106,"t":2.5,"m":21.1},{"id":106,"t":5,"m":22.2},{"id":106,"t":10,"m":23.4},{"id":106,"t":20,"m":24.9},
{"id":107,"t":5e-3,"m":16.9},{"id":107,"t":7e-3,"m":16.8},{"id":107,"t":0.01,"m":17.2},{"id":107,"t":0.014,"m":17.1},{"id":107,"t":0.02,"m":17.5},{"id":107,"t":0.03,"m":17.6},{"id":107,"t":0.045,"m":18.0},{"id":107,"t":0.07,"m":18.2},{"id":107,"t":0.1,"m":18.6},{"id":107,"t":0.15,"m":18.8},{"id":107,"t":0.25,"m":19.3},{"id":107,"t":0.4,"m":19.7},{"id":107,"t":0.7,"m":20.3},{"id":107,"t":1.2,"m":20.9},{"id":107,"t":2.5,"m":21.9},{"id":107,"t":5,"m":23.0},{"id":107,"t":10,"m":24.3},{"id":107,"t":25,"m":26.2},
{"id":108,"t":7e-3,"m":15.2},{"id":108,"t":0.01,"m":15.6},{"id":108,"t":0.014,"m":15.8},{"id":108,"t":0.02,"m":16.3},{"id":108,"t":0.03,"m":16.5},{"id":108,"t":0.045,"m":17.0},{"id":108,"t":0.07,"m":17.3},{"id":108,"t":0.1,"m":17.8},{"id":108,"t":0.15,"m":18.1},{"id":108,"t":0.25,"m":18.7},{"id":108,"t":0.4,"m":19.1},{"id":108,"t":0.7,"m":19.8},{"id":108,"t":1.2,"m":20.4},{"id":108,"t":2.5,"m":21.5},{"id":108,"t":5,"m":22.7},{"id":108,"t":12,"m":24.3},{"id":108,"t":30,"m":26.4},
{"id":109,"t":0.01,"m":18.9},{"id":109,"t":0.015,"m":18.8},{"id":109,"t":0.022,"m":19.2},{"id":109,"t":0.03,"m":19.1},{"id":109,"t":0.05,"m":19.5},{"id":109,"t":0.08,"m":19.6},{"id":109,"t":0.12,"m":20.0},{"id":109,"t":0.2,"m":20.2},{"id":109,"t":0.35,"m":20.7},{"id":109,"t":0.6,"m":21.1},{"id":109,"t":1,"m":21.7},{"id":109,"t":2,"m":22.5},{"id":109,"t":4,"m":23.4},{"id":109,"t":10,"m":24.9},{"id":109,"t":25,"m":26.6},
{"id":110,"t":0.013,"m":16.6},{"id":110,"t":0.02,"m":16.9},{"id":110,"t":0.03,"m":17.3},{"id":110,"t":0.045,"m":17.4},{"id":110,"t":0.07,"m":17.9},{"id":110,"t":0.1,"m":18.1},{"id":110,"t":0.15,"m":18.6},{"id":110,"t":0.25,"m":18.9},{"id":110,"t":0.4,"m":19.5},{"id":110,"t":0.7,"m":20.0},{"id":110,"t":1.2,"m":20.8},{"id":110,"t":2.5,"m":21.8},{"id":110,"t":5,"m":23.0},{"id":110,"t":10,"m":24.4},{"id":110,"t":20,"m":25.9},
{"id":111,"t":0.018,"m":14.9},{"id":111,"t":0.025,"m":15.3},{"id":111,"t":0.035,"m":15.5},{"id":111,"t":0.05,"m":16.0},{"id":111,"t":0.075,"m":16.3},{"id":111,"t":0.11,"m":16.8},{"id":111,"t":0.17,"m":17.1},{"id":111,"t":0.25,"m":17.7},{"id":111,"t":0.4,"m":18.1},{"id":111,"t":0.7,"m":18.9},{"id":111,"t":1.2,"m":19.5},{"id":111,"t":2.5,"m":20.6},{"id":111,"t":5,"m":21.8},{"id":111,"t":10,"m":23.0},{"id":111,"t":25,"m":24.8},{"id":111,"t":50,"m":26.4},
{"id":112,"t":0.025,"m":18.0},{"id":112,"t":0.035,"m":18.3},{"id":112,"t":0.05,"m":18.3},{"id":112,"t":0.075,"m":18.7},{"id":112,"t":0.11,"m":18.8},{"id":112,"t":0.17,"m":19.3},{"id":112,"t":0.25,"m":19.5},{"id":112,"t":0.4,"m":20.0},{"id":112,"t":0.7,"m":20.5},{"id":112,"t":1.2,"m":21.2},{"id":112,"t":2.5,"m":22.2},{"id":112,"t":5,"m":23.3},{"id":112,"t":10,"m":24.6},{"id":112,"t":25,"m":26.5},{"id":112,"t":50,"m":28.0},
{"id":113,"t":0.04,"m":17.1},{"id":113,"t":0.06,"m":17.4},{"id":113,"t":0.09,"m":17.5},{"id":113,"t":0.13,"m":18.0},{"id":113,"t":0.2,"m":18.2},{"id":113,"t":0.3,"m":18.7},{"id":113,"t":0.5,"m":19.1},{"id":113,"t":0.8,"m":19.7},{"id":113,"t":1.3,"m":20.2},{"id":113,"t":2.5,"m":21.2},{"id":113,"t":5,"m":22.3},{"id":113,"t":10,"m":23.6},{"id":113,"t":25,"m":25.6},{"id":113,"t":60,"m":27.6},
{"id":114,"t":0.06,"m":19.0},{"id":114,"t":0.09,"m":19.3},{"id":114,"t":0.13,"m":19.4},{"id":114,"t":0.2,"m":19.8},{"id":114,"t":0.3,"m":20.0},{"id":114,"t":0.5,"m":20.5},{"id":114,"t":0.8,"m":20.8},{"id":114,"t":1.3,"m":21.4},{"id":114,"t":2.5,"m":22.2},{"id":114,"t":5,"m":23.3},{"id":114,"t":12,"m":24.9},{"id":114,"t":30,"m":26.9},
{"id":115,"t":0.1,"m":17.0},{"id":115,"t":0.15,"m":17.4},{"id":115,"t":0.22,"m":17.6},{"id":115,"t":0.33,"m":18.1},{"id":115,"t":0.5,"m":18.4},{"id":115,"t":0.8,"m":19.0},{"id":115,"t":1.3,"m":19.5},{"id":115,"t":2,"m":20.1},{"id":115,"t":3.5,"m":20.9},{"id":115,"t":7,"m":22.0},{"id":115,"t":15,"m":23.5},{"id":115,"t":40,"m":25.8},
{"id":116,"t":0.15,"m":18.7},{"id":116,"t":0.22,"m":19.0},{"id":116,"t":0.33,"m":19.1},{"id":116,"t":0.5,"m":19.6},{"id":116,"t":0.8,"m":19.9},{"id":116,"t":1.3,"m":20.5},{"id":116,"t":2,"m":21.0},{"id":116,"t":3.5,"m":21.8},{"id":116,"t":7,"m":22.9},{"id":116,"t":15,"m":24.4},{"id":116,"t":35,"m":26.5},{"id":116,"t":70,"m":28.4},
{"id":117,"t":6e-4,"m":15.2},{"id":117,"t":9e-4,"m":15.5},{"id":117,"t":1.3e-3,"m":15.4},{"id":117,"t":2e-3,"m":15.9},{"id":117,"t":3e-3,"m":16.0},{"id":117,"t":4.5e-3,"m":16.4},{"id":117,"t":7e-3,"m":16.5},{"id":117,"t":0.01,"m":16.9},{"id":117,"t":0.016,"m":17.0},{"id":117,"t":0.025,"m":17.4},{"id":117,"t":0.04,"m":17.7},{"id":117,"t":0.07,"m":18.2},{"id":117,"t":0.12,"m":18.6},{"id":117,"t":0.25,"m":19.3},{"id":117,"t":0.5,"m":20.0},{"id":117,"t":1,"m":20.8},{"id":117,"t":2.5,"m":22.0},{"id":117,"t":6,"m":23.4},{"id":117,"t":15,"m":25.2},
{"id":118,"t":4e-4,"m":15.0},{"id":118,"t":6e-4,"m":15.4},{"id":118,"t":9e-4,"m":15.9},{"id":118,"t":1.3e-3,"m":16.0},{"id":118,"t":2e-3,"m":16.5},{"id":118,"t":3e-3,"m":16.6},{"id":118,"t":4.5e-3,"m":17.0},{"id":118,"t":7e-3,"m":17.1},{"id":118,"t":0.01,"m":17.5},{"id":118,"t":0.016,"m":17.6},{"id":118,"t":0.025,"m":18.0},{"id":118,"t":0.04,"m":18.3},{"id":118,"t":0.07,"m":18.7},{"id":118,"t":0.12,"m":19.1},{"id":118,"t":0.25,"m":19.8},{"id":118,"t":0.5,"m":20.5},{"id":118,"t":1,"m":21.3},{"id":118,"t":2.5,"m":22.5},{"id":118,"t":6,"m":23.9},{"id":118,"t":15,"m":25.7},
{"id":119,"t":7e-4,"m":16.7},{"id":119,"t":1e-3,"m":17.2},{"id":119,"t":1.5e-3,"m":17.1},{"id":119,"t":2.2e-3,"m":17.6},{"id":119,"t":3.3e-3,"m":17.7},{"id":119,"t":5e-3,"m":18.1},{"id":119,"t":7.5e-3,"m":18.1},{"id":119,"t":0.011,"m":18.5},{"id":119,"t":0.017,"m":18.6},{"id":119,"t":0.025,"m":19.0},{"id":119,"t":0.04,"m":19.2},{"id":119,"t":0.07,"m":19.6},{"id":119,"t":0.12,"m":19.9},{"id":119,"t":0.25,"m":20.5},{"id":119,"t":0.5,"m":21.1},{"id":119,"t":1,"m":21.8},{"id":119,"t":2.5,"m":22.9},{"id":119,"t":6,"m":24.2},{"id":119,"t":15,"m":25.9},
{"id":120,"t":1.5e-3,"m":13.9},{"id":120,"t":2.2e-3,"m":14.3},{"id":120,"t":3.3e-3,"m":14.3},{"id":120,"t":5e-3,"m":14.8},{"id":120,"t":7.5e-3,"m":15.0},{"id":120,"t":0.011,"m":15.5},{"id":120,"t":0.017,"m":15.7},{"id":120,"t":0.025,"m":16.2},{"id":120,"t":0.04,"m":16.5},{"id":120,"t":0.07,"m":17.1},{"id":120,"t":0.12,"m":17.5},{"id":120,"t":0.25,"m":18.3},{"id":120,"t":0.5,"m":19.0},{"id":120,"t":1,"m":19.8},{"id":120,"t":2.5,"m":21.0},{"id":120,"t":6,"m":22.4},{"id":120,"t":15,"m":24.2},
{"id":121,"t":3e-3,"m":15.9},{"id":121,"t":4.5e-3,"m":16.3},{"id":121,"t":7e-3,"m":16.4},{"id":121,"t":0.01,"m":16.9},{"id":121,"t":0.016,"m":17.1},{"id":121,"t":0.025,"m":17.6},{"id":121,"t":0.04,"m":17.9},{"id":121,"t":0.07,"m":18.4},{"id":121,"t":0.12,"m":18.8},{"id":121,"t":0.25,"m":19.4},{"id":121,"t":0.5,"m":20.0},{"id":121,"t":1,"m":20.7},{"id":121,"t":2.5,"m":21.8},{"id":121,"t":6,"m":23.1},{"id":121,"t":15,"m":24.8},{"id":121,"t":40,"m":26.9},
{"id":122,"t":1e-3,"m":17.8},{"id":122,"t":1.5e-3,"m":18.1},{"id":122,"t":2.3e-3,"m":18.0},{"id":122,"t":3.5e-3,"m":18.4},{"id":122,"t":5e-3,"m":18.4},{"id":122,"t":8e-3,"m":18.8},{"id":122,"t":0.012,"m":18.9},{"id":122,"t":0.02,"m":19.3},{"id":122,"t":0.035,"m":19.6},{"id":122,"t":0.06,"m":20.0},{"id":122,"t":0.1,"m":20.3},{"id":122,"t":0.2,"m":20.8},{"id":122,"t":0.5,"m":21.5},{"id":122,"t":1.2,"m":22.3},{"id":122,"t":3,"m":23.3},{"id":122,"t":8,"m":24.7},{"id":122,"t":20,"m":26.4},
{"id":123,"t":2e-3,"m":19.3},{"id":123,"t":3e-3,"m":19.5},{"id":123,"t":5e-3,"m":19.4},{"id":123,"t":8e-3,"m":19.8},{"id":123,"t":0.012,"m":19.8},{"id":123,"t":0.02,"m":20.2},{"id":123,"t":0.035,"m":20.3},{"id":123,"t":0.06,"m":20.7},{"id":123,"t":0.1,"m":20.9},{"id":123,"t":0.2,"m":21.4},{"id":123,"t":0.5,"m":22.0},{"id":123,"t":1.2,"m":22.8},{"id":123,"t":3,"m":23.8},{"id":123,"t":8,"m":25.2},{"id":123,"t":20,"m":26.8},{"id":123,"t":50,"m":28.4},
{"id":124,"t":4e-3,"m":13.3},{"id":124,"t":6e-3,"m":13.8},{"id":124,"t":9e-3,"m":14.0},{"id":124,"t":0.013,"m":14.5},{"id":124,"t":0.02,"m":14.8},{"id":124,"t":0.03,"m":15.3},{"id":124,"t":0.05,"m":15.7},{"id":124,"t":0.08,"m":16.2},{"id":124,"t":0.13,"m":16.6},{"id":124,"t":0.2,"m":17.1},{"id":124,"t":0.35,"m":17.6},{"id":124,"t":0.6,"m":18.3},{"id":124,"t":1,"m":18.9},{"id":124,"t":2,"m":19.9},{"id":124,"t":4,"m":20.9},{"id":124,"t":8,"m":22.1},{"id":124,"t":15,"m":23.3},
{"id":125,"t":0.02,"m":17.9},{"id":125,"t":0.03,"m":18.3},{"id":125,"t":0.045,"m":18.4},{"id":125,"t":0.07,"m":18.9},{"id":125,"t":0.1,"m":19.0},{"id":125,"t":0.15,"m":19.5},{"id":125,"t":0.25,"m":19.7},{"id":125,"t":0.4,"m":20.2},{"id":125,"t":0.7,"m":20.6},{"id":125,"t":1.2,"m":21.3},{"id":125,"t":2.5,"m":22.3},{"id":125,"t":5,"m":23.5},{"id":125,"t":10,"m":24.9},{"id":125,"t":20,"m":26.4},
{"id":126,"t":0.03,"m":16.0},{"id":126,"t":0.045,"m":16.3},{"id":126,"t":0.07,"m":16.6},{"id":126,"t":0.1,"m":17.1},{"id":126,"t":0.15,"m":17.3},{"id":126,"t":0.25,"m":17.9},{"id":126,"t":0.4,"m":18.3},{"id":126,"t":0.7,"m":19.0},{"id":126,"t":1.2,"m":19.6},{"id":126,"t":2.5,"m":20.7},{"id":126,"t":5,"m":21.9},{"id":126,"t":10,"m":23.2},{"id":126,"t":20,"m":24.6},{"id":126,"t":40,"m":26.2},
{"id":127,"t":0.05,"m":20.9},{"id":127,"t":0.08,"m":21.1},{"id":127,"t":0.13,"m":21.1},{"id":127,"t":0.2,"m":21.5},{"id":127,"t":0.35,"m":21.7},{"id":127,"t":0.6,"m":22.2},{"id":127,"t":1,"m":22.6},{"id":127,"t":2,"m":23.3},{"id":127,"t":4,"m":24.2},{"id":127,"t":10,"m":25.6},{"id":127,"t":25,"m":27.3},
{"id":128,"t":0.3,"m":19.0},{"id":128,"t":0.45,"m":19.4},{"id":128,"t":0.7,"m":19.5},{"id":128,"t":1,"m":20.0},{"id":128,"t":1.5,"m":20.2},{"id":128,"t":2.5,"m":20.8},{"id":128,"t":4,"m":21.3},{"id":128,"t":7,"m":22.2},{"id":128,"t":12,"m":23.3},{"id":128,"t":25,"m":25.0},{"id":128,"t":50,"m":26.8},
{"id":129,"t":0.5,"m":20.2},{"id":129,"t":0.8,"m":20.6},{"id":129,"t":1.2,"m":20.7},{"id":129,"t":2,"m":21.3},{"id":129,"t":3,"m":21.5},{"id":129,"t":5,"m":22.2},{"id":129,"t":8,"m":22.9},{"id":129,"t":15,"m":24.2},{"id":129,"t":30,"m":25.9},{"id":129,"t":60,"m":27.8},
{"id":130,"t":2.2e-4,"m":12.8},{"id":130,"t":3e-4,"m":13.2},{"id":130,"t":4.5e-4,"m":13.1},{"id":130,"t":7e-4,"m":13.6},{"id":130,"t":1e-3,"m":13.8},{"id":130,"t":1.5e-3,"m":14.3},{"id":130,"t":2.5e-3,"m":14.6},{"id":130,"t":4e-3,"m":15.2},{"id":130,"t":7e-3,"m":15.6},{"id":130,"t":0.012,"m":16.2},{"id":130,"t":0.02,"m":16.6},{"id":130,"t":0.04,"m":17.2},{"id":130,"t":0.08,"m":17.9},{"id":130,"t":0.15,"m":18.4},{"id":130,"t":0.3,"m":19.1},{"id":130,"t":0.7,"m":20.0},{"id":130,"t":1.5,"m":20.9},{"id":130,"t":4,"m":22.2},{"id":130,"t":10,"m":23.8},{"id":130,"t":25,"m":25.7},
{"id":131,"t":3e-4,"m":14.2},{"id":131,"t":4.5e-4,"m":14.7},{"id":131,"t":7e-4,"m":14.8},{"id":131,"t":1e-3,"m":15.3},{"id":131,"t":1.5e-3,"m":15.4},{"id":131,"t":2.5e-3,"m":15.9},{"id":131,"t":4e-3,"m":16.2},{"id":131,"t":7e-3,"m":16.7},{"id":131,"t":0.012,"m":17.0},{"id":131,"t":0.02,"m":17.5},{"id":131,"t":0.04,"m":17.9},{"id":131,"t":0.08,"m":18.5},{"id":131,"t":0.15,"m":19.0},{"id":131,"t":0.3,"m":19.6},{"id":131,"t":0.7,"m":20.5},{"id":131,"t":1.5,"m":21.4},{"id":131,"t":4,"m":22.7},{"id":131,"t":10,"m":24.3},{"id":131,"t":25,"m":26.2},
{"id":132,"t":8e-3,"m":17.9},{"id":132,"t":0.012,"m":18.1},{"id":132,"t":0.018,"m":18.0},{"id":132,"t":0.027,"m":18.4},{"id":132,"t":0.04,"m":18.5},{"id":132,"t":0.06,"m":18.9},{"id":132,"t":0.09,"m":19.1},{"id":132,"t":0.14,"m":19.5},{"id":132,"t":0.22,"m":19.8},{"id":132,"t":0.35,"m":20.3},{"id":132,"t":0.6,"m":20.8},{"id":132,"t":1,"m":21.4},{"id":132,"t":2,"m":22.3},{"id":132,"t":4,"m":23.3},{"id":132,"t":9,"m":24.8},{"id":132,"t":20,"m":26.6},
{"id":133,"t":0.012,"m":14.1},{"id":133,"t":0.018,"m":14.6},{"id":133,"t":0.027,"m":14.8},{"id":133,"t":0.04,"m":15.4},{"id":133,"t":0.06,"m":15.7},{"id":133,"t":0.09,"m":16.2},{"id":133,"t":0.14,"m":16.5},{"id":133,"t":0.22,"m":17.1},{"id":133,"t":0.35,"m":17.5},{"id":133,"t":0.6,"m":18.2},{"id":133,"t":1,"m":18.8},{"id":133,"t":2,"m":19.8},{"id":133,"t":4,"m":20.8},{"id":133,"t":8,"m":22.0},{"id":133,"t":16,"m":23.3},{"id":133,"t":35,"m":25.0},
{"id":134,"t":1.6e-3,"m":18.9},{"id":134,"t":2.4e-3,"m":19.2},{"id":134,"t":3.6e-3,"m":19.1},{"id":134,"t":5.5e-3,"m":19.5},{"id":134,"t":8e-3,"m":19.6},{"id":134,"t":0.012,"m":20.0},{"id":134,"t":0.02,"m":20.1},{"id":134,"t":0.03,"m":20.5},{"id":134,"t":0.05,"m":20.7},{"id":134,"t":0.08,"m":21.1},{"id":134,"t":0.13,"m":21.4},{"id":134,"t":0.25,"m":22.0},{"id":134,"t":0.5,"m":22.6},{"id":134,"t":1,"m":23.3},{"id":134,"t":2.5,"m":24.3},{"id":134,"t":6,"m":25.6},{"id":134,"t":15,"m":27.2},
{"id":135,"t":2e-3,"m":15.1},{"id":135,"t":3e-3,"m":15.5},{"id":135,"t":4.5e-3,"m":15.6},{"id":135,"t":7e-3,"m":16.1},{"id":135,"t":0.01,"m":16.3},{"id":135,"t":0.015,"m":16.8},{"id":135,"t":0.022,"m":17.0},{"id":135,"t":0.035,"m":17.5},{"id":135,"t":0.05,"m":17.7},{"id":135,"t":0.08,"m":18.3},{"id":135,"t":0.13,"m":18.6},{"id":135,"t":0.25,"m":19.3},{"id":135,"t":0.5,"m":20.0},{"id":135,"t":1,"m":20.8},{"id":135,"t":2,"m":21.7},{"id":135,"t":5,"m":23.0},{"id":135,"t":12,"m":24.6},{"id":135,"t":30,"m":26.5}
],
"red": [
{"t":2.13e-5,"m":9.12},{"t":3.57e-5,"m":8.26},{"t":1.53e-4,"m":6.86},{"t":2.39e-4,"m":7.33},{"t":3.79e-4,"m":8.55},{"t":4.24e-4,"m":8.37},{"t":5.69e-4,"m":8.91},{"t":7.93e-4,"m":9.74},{"t":9.89e-4,"m":10.03},{"t":1.3e-3,"m":10.35},{"t":1.63e-3,"m":10.63},{"t":1.96e-3,"m":10.73},{"t":2.5e-3,"m":10.95},{"t":3.16e-3,"m":11.15},{"t":3.95e-3,"m":11.46},{"t":4.5e-3,"m":11.55},{"t":5.2e-3,"m":11.77},{"t":6e-3,"m":11.9},{"t":7.1e-3,"m":12.16},{"t":8.5e-3,"m":12.35},{"t":0.01,"m":12.55},{"t":0.0124,"m":12.81},{"t":0.0135,"m":12.75},{"t":0.015,"m":12.98},{"t":0.016,"m":13.05},{"t":0.017,"m":13.2},{"t":0.0185,"m":13.22},{"t":0.0196,"m":13.41},{"t":0.022,"m":13.38},{"t":0.025,"m":13.6},{"t":0.028,"m":13.62},{"t":0.03,"m":13.78},{"t":0.033,"m":13.85},{"t":0.0368,"m":14.11},{"t":0.04,"m":14.05},{"t":0.045,"m":14.3},{"t":0.048,"m":14.25},{"t":0.0513,"m":14.45},{"t":0.06,"m":14.5},{"t":0.07,"m":14.65},{"t":0.077,"m":14.6},{"t":0.085,"m":14.9},{"t":0.092,"m":14.88},{"t":0.101,"m":15.04},{"t":0.115,"m":15.1},{"t":0.13,"m":15.22},{"t":0.145,"m":15.2},{"t":0.16,"m":15.4},{"t":0.18,"m":15.45},{"t":0.2,"m":15.62},{"t":0.22,"m":15.65},{"t":0.246,"m":15.82},{"t":0.27,"m":15.85},{"t":0.3,"m":16.02},{"t":0.35,"m":16.15},{"t":0.397,"m":16.34},{"t":0.45,"m":16.4},{"t":0.5,"m":16.62},{"t":0.55,"m":16.68},{"t":0.597,"m":16.86},{"t":0.65,"m":16.9},{"t":0.7,"m":17.05},{"t":0.75,"m":17.1},{"t":0.787,"m":17.23},{"t":0.85,"m":17.35},{"t":0.9,"m":17.5},{"t":1.0,"m":17.6},{"t":1.12,"m":17.83},{"t":1.2,"m":17.85},{"t":1.3,"m":18.07},{"t":1.42,"m":18.1},{"t":1.56,"m":18.35},{"t":1.75,"m":18.4},{"t":2.0,"m":18.62},{"t":2.15,"m":18.68},{"t":2.34,"m":18.94},{"t":2.6,"m":18.98},{"t":3.0,"m":19.27},{"t":3.3,"m":19.25},{"t":3.78,"m":19.46},{"t":4.0,"m":19.6},{"t":4.3,"m":19.78},{"t":4.6,"m":19.8},{"t":4.98,"m":19.98},{"t":5.5,"m":20.1},{"t":6.0,"m":20.27},{"t":6.5,"m":20.25},{"t":7.0,"m":20.42},{"t":7.5,"m":20.4},{"t":8.03,"m":20.62},{"t":8.8,"m":20.7},{"t":9.5,"m":20.92},{"t":10.3,"m":20.85},{"t":11.4,"m":21.05},{"t":12,"m":20.95},{"t":13,"m":21.05},{"t":13.8,"m":20.95},{"t":14.5,"m":21.2},{"t":15.2,"m":21.1},{"t":16,"m":21.35},{"t":17,"m":21.25},{"t":18.5,"m":21.5},{"t":19.5,"m":21.4},{"t":21,"m":21.6},{"t":22.5,"m":21.45},{"t":24,"m":21.85},{"t":25.5,"m":21.7},{"t":27.7,"m":21.75},{"t":29,"m":21.65},{"t":30,"m":22.0},{"t":31.5,"m":22.1},{"t":32.5,"m":21.9},{"t":34,"m":22.35},{"t":35,"m":22.2},{"t":36,"m":22.1},{"t":37,"m":22.5},{"t":38.6,"m":22.42},{"t":40,"m":22.7},{"t":41,"m":22.55},{"t":42.5,"m":22.85},{"t":44,"m":22.81}
],
"black": [
{"t":0.0476,"m":12.32},{"t":0.1,"m":12.89},{"t":0.177,"m":13.54},{"t":0.233,"m":13.72},{"t":0.4,"m":14.37},{"t":0.597,"m":14.89},{"t":0.93,"m":15.93},{"t":1.37,"m":16.27},{"t":1.56,"m":16.0},{"t":2.05,"m":16.45},{"t":2.92,"m":16.86},{"t":3.44,"m":16.86},{"t":4.38,"m":17.57},{"t":5.36,"m":17.65},{"t":6.1,"m":18.08},{"t":8.67,"m":18.79},{"t":11,"m":19.1},{"t":15.9,"m":19.72},{"t":22,"m":20.1},{"t":33.9,"m":20.68},{"t":40,"m":20.9},{"t":44,"m":21.2},{"t":47.3,"m":21.46},{"t":52.8,"m":21.54},{"t":54.8,"m":21.9},{"t":58,"m":21.98},{"t":60,"m":21.72},{"t":63.6,"m":22.5},{"t":68.4,"m":22.17},{"t":75,"m":22.43},{"t":88.5,"m":22.37},{"t":102,"m":22.55}
],
"blue": [
{"t":0.0404,"m":11.25},{"t":0.044,"m":11.2},{"t":0.0513,"m":11.41},{"t":0.0728,"m":12.1},{"t":0.0978,"m":12.37},{"t":0.102,"m":12.16},{"t":0.11,"m":12.4},{"t":0.134,"m":12.55},{"t":0.152,"m":12.76},{"t":0.17,"m":12.7},{"t":0.201,"m":12.89},{"t":0.23,"m":12.95},{"t":0.265,"m":13.23},{"t":0.3,"m":13.2},{"t":0.397,"m":13.54},{"t":0.487,"m":13.67},{"t":0.597,"m":14.1},{"t":0.787,"m":14.45},{"t":1.04,"m":14.71},{"t":1.2,"m":14.85},{"t":1.37,"m":15.23},{"t":1.56,"m":15.56},{"t":2.21,"m":15.93},{"t":2.92,"m":16.35},{"t":4.06,"m":16.86},{"t":5.36,"m":17.3},{"t":6.56,"m":17.75},{"t":9.33,"m":18.16},{"t":12.1,"m":18.53},{"t":18.5,"m":19.2},{"t":29.8,"m":19.83},{"t":41.6,"m":20.42},{"t":56.9,"m":21.02}
]
},
"resolve": {"axis": {"x": "independent", "y": "independent"}},
"layer": [
{
 "data": {"name": "grey"},
 "mark": {"type": "line", "color": "#c6c6c6", "strokeWidth": 1, "clip": true},
 "encoding": {
  "x": {"field": "t", "type": "quantitative", "scale": {"type": "log", "domain": [1e-5, 508], "nice": false},
        "axis": {"orient": "bottom", "values": [1e-5, 1e-4, 0.001, 0.01, 0.1, 1, 10, 100], "labelExpr": "datum.value < 0.005 ? '1E-' + round(-log(datum.value)/LN10) : format(datum.value, '~g')", "tickSize": -10, "labelPadding": 20, "labelFlush": false, "labelOverlap": false, "domain": true,
                 "title": "t (days after burst in the observer frame)", "titleFontSize": 30, "titleFontWeight": "bold", "titleBaseline": "alphabetic", "titleY": 68}},
  "y": {"field": "m", "type": "quantitative", "scale": {"domain": [4, 29], "reverse": true, "nice": false, "zero": false},
        "axis": {"orient": "left", "values": [5,6,7,8,9,10,11,12,13,14,15,16,17,18,19,20,21,22,23,24,25,26,27,28], "format": "d", "tickSize": -10, "labelPadding": 21, "labelFlush": false, "labelOverlap": false, "domain": true,
                 "title": "Corrected R    magnitude", "titleFontSize": 30, "titleFontWeight": "bold", "titleBaseline": "alphabetic", "titleX": -65, "titleY": 504}},
  "detail": {"field": "id", "type": "nominal"}
 }
},
{
 "data": {"name": "red"},
 "mark": {"type": "line", "color": "#e8161b", "strokeWidth": 1.6, "clip": true},
 "encoding": {
  "x": {"field": "t", "type": "quantitative", "scale": {"type": "log", "domain": [1e-5, 508], "nice": false},
        "axis": {"orient": "bottom", "values": [2e-5,3e-5,4e-5,5e-5,6e-5,7e-5,8e-5,9e-5,2e-4,3e-4,4e-4,5e-4,6e-4,7e-4,8e-4,9e-4,0.002,0.003,0.004,0.005,0.006,0.007,0.008,0.009,0.02,0.03,0.04,0.05,0.06,0.07,0.08,0.09,0.2,0.3,0.4,0.5,0.6,0.7,0.8,0.9,2,3,4,5,6,7,8,9,20,30,40,50,60,70,80,90,200,300,400,500], "labels": false, "tickSize": -5, "domain": false, "title": null}},
  "y": {"field": "m", "type": "quantitative", "scale": {"domain": [4, 29], "reverse": true, "nice": false, "zero": false},
        "axis": {"orient": "left", "values": [4.5,5.5,6.5,7.5,8.5,9.5,10.5,11.5,12.5,13.5,14.5,15.5,16.5,17.5,18.5,19.5,20.5,21.5,22.5,23.5,24.5,25.5,26.5,27.5,28.5], "labels": false, "tickSize": -5, "domain": false, "title": null}}
 }
},
{
 "data": {"name": "black"},
 "mark": {"type": "line", "color": "#111111", "strokeWidth": 1.6, "clip": true},
 "encoding": {
  "x": {"field": "t", "type": "quantitative", "scale": {"type": "log", "domain": [1e-5, 508], "nice": false},
        "axis": {"orient": "top", "values": [1e-5, 1e-4, 0.001, 0.01, 0.1, 1, 10, 100], "labels": false, "tickSize": -10, "domain": true, "title": null}},
  "y": {"field": "m", "type": "quantitative", "scale": {"domain": [4, 29], "reverse": true, "nice": false, "zero": false},
        "axis": {"orient": "right", "values": [5,6,7,8,9,10,11,12,13,14,15,16,17,18,19,20,21,22,23,24,25,26,27,28], "labels": false, "tickSize": -10, "domain": true, "title": null}}
 }
},
{
 "data": {"name": "blue"},
 "mark": {"type": "line", "color": "#0000e6", "strokeWidth": 8, "strokeCap": "round", "strokeJoin": "round", "clip": true},
 "encoding": {
  "x": {"field": "t", "type": "quantitative", "scale": {"type": "log", "domain": [1e-5, 508], "nice": false},
        "axis": {"orient": "top", "values": [2e-5,3e-5,4e-5,5e-5,6e-5,7e-5,8e-5,9e-5,2e-4,3e-4,4e-4,5e-4,6e-4,7e-4,8e-4,9e-4,0.002,0.003,0.004,0.005,0.006,0.007,0.008,0.009,0.02,0.03,0.04,0.05,0.06,0.07,0.08,0.09,0.2,0.3,0.4,0.5,0.6,0.7,0.8,0.9,2,3,4,5,6,7,8,9,20,30,40,50,60,70,80,90,200,300,400,500], "labels": false, "tickSize": -5, "domain": false, "title": null}},
  "y": {"field": "m", "type": "quantitative", "scale": {"domain": [4, 29], "reverse": true, "nice": false, "zero": false},
        "axis": {"orient": "right", "values": [4.5,5.5,6.5,7.5,8.5,9.5,10.5,11.5,12.5,13.5,14.5,15.5,16.5,17.5,18.5,19.5,20.5,21.5,22.5,23.5,24.5,25.5,26.5,27.5,28.5], "labels": false, "tickSize": -5, "domain": false, "title": null}}
 }
},
{
 "data": {"name": "blue"},
 "mark": {"type": "circle", "color": "#0000e6", "size": 95, "opacity": 1, "clip": true},
 "encoding": {
  "x": {"field": "t", "type": "quantitative", "scale": {"type": "log", "domain": [1e-5, 508], "nice": false}, "axis": null},
  "y": {"field": "m", "type": "quantitative", "scale": {"domain": [4, 29], "reverse": true, "nice": false, "zero": false}, "axis": null}
 }
},
{
 "data": {"values": [{"name": "ZTF", "t": 1.04, "t2": 10.8, "m": 20.66, "m2": 21.36}]},
 "mark": {"type": "rect", "color": "#00b050", "clip": true},
 "encoding": {
  "x": {"field": "t", "type": "quantitative", "scale": {"type": "log", "domain": [1e-5, 508], "nice": false}, "axis": null},
  "x2": {"field": "t2"},
  "y": {"field": "m", "type": "quantitative", "scale": {"domain": [4, 29], "reverse": true, "nice": false, "zero": false}, "axis": null},
  "y2": {"field": "m2"}
 }
},
{
 "data": {"values": [{"name": "Rubin", "t": 0.863, "t2": 508, "m": 24.45, "m2": 25.15}]},
 "mark": {"type": "rect", "color": "#4472c4", "clip": true},
 "encoding": {
  "x": {"field": "t", "type": "quantitative", "scale": {"type": "log", "domain": [1e-5, 508], "nice": false}, "axis": null},
  "x2": {"field": "t2"},
  "y": {"field": "m", "type": "quantitative", "scale": {"domain": [4, 29], "reverse": true, "nice": false, "zero": false}, "axis": null},
  "y2": {"field": "m2"}
 }
},
{
 "data": {"values": [{"label": "GRB 130427A", "t": 1.29e-5, "m": 10.42}]},
 "mark": {"type": "text", "align": "left", "baseline": "alphabetic", "font": "Liberation Sans", "fontSize": 28, "color": "#e8161b"},
 "encoding": {
  "x": {"field": "t", "type": "quantitative", "scale": {"type": "log", "domain": [1e-5, 508], "nice": false}, "axis": null},
  "y": {"field": "m", "type": "quantitative", "scale": {"domain": [4, 29], "reverse": true, "nice": false, "zero": false}, "axis": null},
  "text": {"field": "label"}
 }
},
{
 "data": {"values": [{"label": "GRB 221009A", "t": 0.1005, "m": 11.98}]},
 "mark": {"type": "text", "align": "left", "baseline": "alphabetic", "font": "Liberation Sans", "fontSize": 44, "color": "#0000e6"},
 "encoding": {
  "x": {"field": "t", "type": "quantitative", "scale": {"type": "log", "domain": [1e-5, 508], "nice": false}, "axis": null},
  "y": {"field": "m", "type": "quantitative", "scale": {"domain": [4, 29], "reverse": true, "nice": false, "zero": false}, "axis": null},
  "text": {"field": "label"}
 }
},
{
 "data": {"values": [{"label": "GRB 030329", "t": 18.3, "m": 18.79}]},
 "mark": {"type": "text", "align": "left", "baseline": "alphabetic", "font": "Liberation Sans", "fontSize": 28, "color": "#111111"},
 "encoding": {
  "x": {"field": "t", "type": "quantitative", "scale": {"type": "log", "domain": [1e-5, 508], "nice": false}, "axis": null},
  "y": {"field": "m", "type": "quantitative", "scale": {"domain": [4, 29], "reverse": true, "nice": false, "zero": false}, "axis": null},
  "text": {"field": "label"}
 }
},
{
 "data": {"values": [{"label": "ZTF", "t": 1.047, "m": 23.59}]},
 "mark": {"type": "text", "align": "left", "baseline": "alphabetic", "font": "Lato", "fontSize": 89, "color": "#00b050"},
 "encoding": {
  "x": {"field": "t", "type": "quantitative", "scale": {"type": "log", "domain": [1e-5, 508], "nice": false}, "axis": null},
  "y": {"field": "m", "type": "quantitative", "scale": {"domain": [4, 29], "reverse": true, "nice": false, "zero": false}, "axis": null},
  "text": {"field": "label"}
 }
},
{
 "data": {"values": [{"label": "Rubin", "t": 2.7, "m": 27.62}]},
 "mark": {"type": "text", "align": "left", "baseline": "alphabetic", "font": "Lato", "fontSize": 94, "color": "#4472c4"},
 "encoding": {
  "x": {"field": "t", "type": "quantitative", "scale": {"type": "log", "domain": [1e-5, 508], "nice": false}, "axis": null},
  "y": {"field": "m", "type": "quantitative", "scale": {"domain": [4, 29], "reverse": true, "nice": false, "zero": false}, "axis": null},
  "text": {"field": "label"}
 }
},
{
 "data": {"values": [{"label": "15", "t": 48.8, "m": 30.82}]},
 "mark": {"type": "text", "align": "left", "baseline": "alphabetic", "font": "Lato", "fontSize": 26, "color": "#8c8c8c"},
 "encoding": {
  "x": {"field": "t", "type": "quantitative", "scale": {"type": "log", "domain": [1e-5, 508], "nice": false}, "axis": null},
  "y": {"field": "m", "type": "quantitative", "scale": {"domain": [4, 29], "reverse": true, "nice": false, "zero": false}, "axis": null},
  "text": {"field": "label"}
 }
},
{
 "data": {"values": [{"label": "c", "t": 3.5e-6, "m": 17.0}]},
 "mark": {"type": "text", "align": "left", "baseline": "alphabetic", "angle": 270, "font": "Liberation Sans", "fontWeight": "bold", "fontSize": 20, "color": "black"},
 "encoding": {
  "x": {"field": "t", "type": "quantitative", "scale": {"type": "log", "domain": [1e-5, 508], "nice": false}, "axis": null},
  "y": {"field": "m", "type": "quantitative", "scale": {"domain": [4, 29], "reverse": true, "nice": false, "zero": false}, "axis": null},
  "text": {"field": "label"}
 }
}
]
}
